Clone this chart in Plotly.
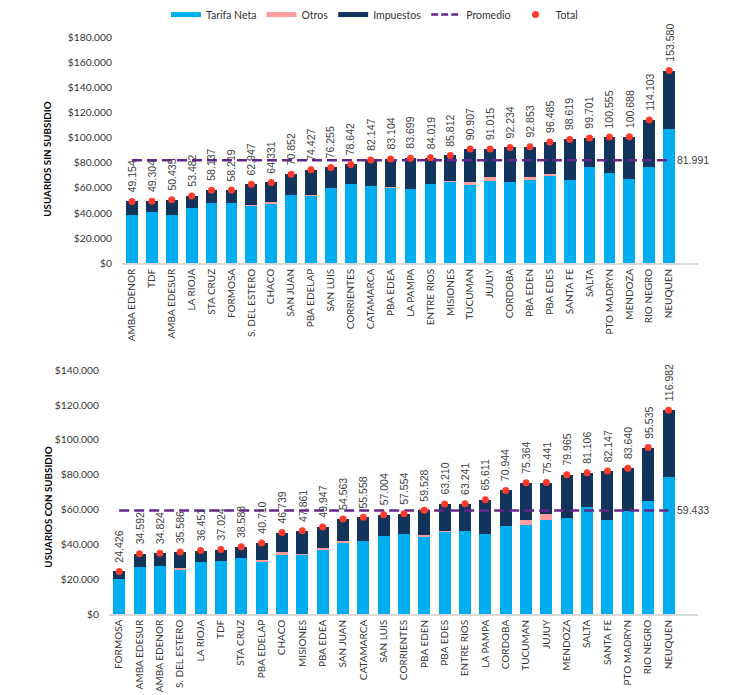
import plotly.graph_objects as go

# ---------------- Data: USUARIOS SIN SUBSIDIO ----------------
cats_sin = ["AMBA EDENOR", "TDF", "AMBA EDESUR", "LA RIOJA", "STA CRUZ", "FORMOSA",
            "S. DEL ESTERO", "CHACO", "SAN JUAN", "PBA EDELAP", "SAN LUIS", "CORRIENTES",
            "CATAMARCA", "PBA EDEA", "LA PAMPA", "ENTRE RIOS", "MISIONES", "TUCUMAN",
            "JUJUY", "CORDOBA", "PBA EDEN", "PBA EDES", "SANTA FE", "SALTA",
            "PTO MADRYN", "MENDOZA", "RIO NEGRO", "NEUQUEN"]
tarifa_sin = [38700, 40500, 38200, 43700, 47600, 47600, 45500, 47400, 53900, 53200,
              59700, 62900, 61800, 59700, 58900, 63400, 64700, 62100, 65300, 64700,
              66300, 69200, 66600, 76300, 71800, 67400, 76800, 106800]
otros_sin = [0, 0, 0, 0, 0, 0, 1000, 1500, 0, 1000, 0, 0, 0, 1300, 0, 0, 800, 2900,
             3700, 0, 2100, 1600, 0, 0, 0, 0, 0, 0]
impuestos_sin = [10454, 8804, 12235, 9782, 10537, 10619, 16447, 15431, 16952, 20227,
                 16555, 15742, 20347, 22104, 24799, 20619, 20312, 25907, 22015, 27534,
                 24453, 25685, 32019, 23401, 28755, 33288, 37303, 46780]
total_sin = [49154, 49304, 50435, 53482, 58137, 58219, 62947, 64331, 70852, 74427,
             76255, 78642, 82147, 83104, 83699, 84019, 85812, 90907, 91015, 92234,
             92853, 96485, 98619, 99701, 100555, 100688, 114103, 153580]
promedio_sin = 81991

# ---------------- Data: USUARIOS CON SUBSIDIO ----------------
cats_con = ["FORMOSA", "AMBA EDESUR", "AMBA EDENOR", "S. DEL ESTERO", "LA RIOJA", "TDF",
            "STA CRUZ", "PBA EDELAP", "CHACO", "MISIONES", "PBA EDEA", "SAN JUAN",
            "CATAMARCA", "SAN LUIS", "CORRIENTES", "PBA EDEN", "PBA EDES", "ENTRE RIOS",
            "LA PAMPA", "CORDOBA", "TUCUMAN", "JUJUY", "MENDOZA", "SALTA", "SANTA FE",
            "PTO MADRYN", "RIO NEGRO", "NEUQUEN"]
tarifa_con = [20000, 27000, 27400, 25500, 30100, 30500, 32000, 30100, 34100, 34100,
              37000, 41000, 41700, 44600, 45700, 44400, 47000, 47600, 46100, 50300,
              51200, 53700, 55200, 61500, 54100, 59000, 64800, 78500]
otros_con = [0, 0, 0, 800, 0, 0, 0, 800, 1500, 500, 800, 700, 0, 0, 0, 700, 900, 0,
             0, 0, 3000, 3600, 0, 0, 0, 0, 0, 0]
impuestos_con = [4426, 7592, 7424, 9286, 6351, 6524, 6583, 9810, 11139, 13261, 12147,
                 12863, 13858, 12404, 11854, 14428, 15310, 15641, 19511, 20644, 21164,
                 18141, 24765, 19606, 28047, 24640, 30735, 38482]
total_con = [24426, 34592, 34824, 35586, 36451, 37024, 38583, 40710, 46739, 47861,
             49947, 54563, 55558, 57004, 57554, 59528, 63210, 63241, 65611, 70944,
             75364, 75441, 79965, 81106, 82147, 83640, 95535, 116982]
promedio_con = 59433

titles = ["USUARIOS SIN SUBSIDIO", "USUARIOS CON SUBSIDIO"]
y_max = [180000, 140000]

# ---------------- Styles ----------------
C_TARIFA = "#00AEEF"
C_OTROS = "#FF9E9E"
C_IMP = "#12335A"
C_PROM = "#63278C"
C_TOTAL = "#FF3B2B"
FONT = "Lato"
TXT = "#333333"
LBL = "#404040"


def fmt(v):
    return f"{v:,}".replace(",", ".")


fig = go.Figure()
annotations = []

panels = [
    (cats_sin, tarifa_sin, otros_sin, impuestos_sin, total_sin, promedio_sin, "x", "y"),
    (cats_con, tarifa_con, otros_con, impuestos_con, total_con, promedio_con, "x2", "y2"),
]

for i, (cats, tar, otr, imp, tot, prom, xa, ya) in enumerate(panels):
    fig.add_trace(go.Bar(x=cats, y=tar, marker_color=C_TARIFA, name="Tarifa Neta",
                         showlegend=False, xaxis=xa, yaxis=ya, marker_line_width=0))
    fig.add_trace(go.Bar(x=cats, y=otr, marker_color=C_OTROS, name="Otros",
                         showlegend=False, xaxis=xa, yaxis=ya, marker_line_width=0))
    fig.add_trace(go.Bar(x=cats, y=imp, marker_color=C_IMP, name="Impuestos",
                         showlegend=False, xaxis=xa, yaxis=ya, marker_line_width=0))
    fig.add_trace(go.Scatter(x=cats, y=[prom] * len(cats), mode="lines", name="Promedio",
                             line=dict(color=C_PROM, width=2.5, dash="10px,5px"),
                             showlegend=False, xaxis=xa, yaxis=ya))
    fig.add_trace(go.Scatter(x=cats, y=tot, mode="markers", name="Total",
                             marker=dict(color=C_TOTAL, size=7),
                             showlegend=False, xaxis=xa, yaxis=ya))
    for c, t in zip(cats, tot):
        annotations.append(dict(x=c, y=t, xref=xa, yref=ya, text=fmt(t), textangle=-90,
                                showarrow=False, xanchor="center", yanchor="bottom",
                                yshift=7, font=dict(family="Liberation Sans", size=10.5,
                                                    color=LBL)))
    annotations.append(dict(x=cats[-1], y=prom, xref=xa, yref=ya, text=fmt(prom),
                            showarrow=False, xanchor="left", yanchor="middle", xshift=6,
                            font=dict(family="Liberation Sans", size=10.5, color=LBL)))

# Legend entries (thin swatches like the reference)
fig.add_trace(go.Scatter(x=[None], y=[None], mode="lines", name="Tarifa Neta",
                         line=dict(color=C_TARIFA, width=5)))
fig.add_trace(go.Scatter(x=[None], y=[None], mode="lines", name="Otros",
                         line=dict(color=C_OTROS, width=5)))
fig.add_trace(go.Scatter(x=[None], y=[None], mode="lines", name="Impuestos",
                         line=dict(color=C_IMP, width=5)))
fig.add_trace(go.Scatter(x=[None], y=[None], mode="lines", name="Promedio",
                         line=dict(color=C_PROM, width=2.5, dash="7px,3px")))
fig.add_trace(go.Scatter(x=[None], y=[None], mode="markers", name="Total",
                         marker=dict(color=C_TOTAL, size=7)))

# Axis titles
annotations.append(dict(x=47 / 730, y=1 - 155 / 695, xref="paper", yref="paper",
                        xanchor="center", yanchor="middle",
                        text="<b>" + titles[0] + "</b>", textangle=-90, showarrow=False,
                        font=dict(family=FONT, size=9.8, color="#000000")))
annotations.append(dict(x=48 / 730, y=1 - 505 / 695, xref="paper", yref="paper",
                        xanchor="center", yanchor="middle",
                        text="<b>" + titles[1] + "</b>", textangle=-90, showarrow=False,
                        font=dict(family=FONT, size=9.8, color="#000000")))

xcommon = dict(type="category", range=[-0.5, 28.45], showgrid=False, showline=True,
               linecolor="#D9D9D9", linewidth=1.5, ticks="", tickangle=-90,
               tickfont=dict(family=FONT, size=10, color=TXT), automargin=False,
               fixedrange=True)
ycommon = dict(showgrid=False, zeroline=False, showline=False, ticks="",
               tickprefix="$", tickformat=",d", ticklabelstandoff=9,
               tickfont=dict(family=FONT, size=10.3, color=TXT), automargin=False)

fig.update_layout(
    width=730, height=695,
    margin=dict(l=0, r=0, t=0, b=0),
    paper_bgcolor="white", plot_bgcolor="white",
    barmode="stack", bargap=0.41,
    separators=",.",
    font=dict(family=FONT, size=10, color=TXT),
    xaxis=dict(xcommon, domain=[122 / 730, 698 / 730], anchor="y"),
    yaxis=dict(ycommon, domain=[1 - 259.3 / 695, 1 - 31.7 / 695], range=[0, y_max[0]],
               dtick=20000, anchor="x"),
    xaxis2=dict(xcommon, domain=[109 / 730, 698 / 730], anchor="y2"),
    yaxis2=dict(ycommon, domain=[1 - 613.3 / 695, 1 - 367.3 / 695], range=[0, y_max[1]],
                dtick=20000, anchor="x2"),
    legend=dict(orientation="h", x=166 / 730, xanchor="left", y=1 + 6 / 695,
                yanchor="top", traceorder="normal",
                font=dict(family=FONT, size=10.5, color=TXT), bgcolor="rgba(0,0,0,0)",
                itemwidth=30, tracegroupgap=0),
    annotations=annotations,
    showlegend=True,
)

fig.write_html("out.html", config={"displayModeBar": False},
               post_script="document.body.style.margin='0px';")
